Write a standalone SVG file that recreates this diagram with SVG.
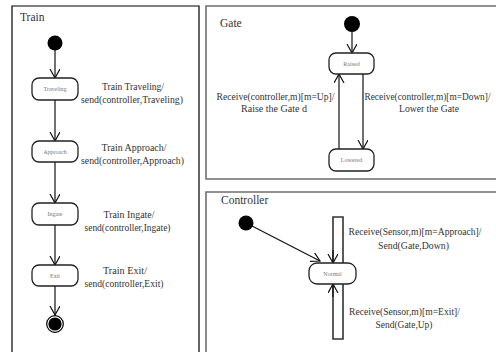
<svg xmlns="http://www.w3.org/2000/svg" width="496" height="352" viewBox="0 0 496 352">
  <style>
    .frame-main { fill: none; stroke: #000; stroke-width: 1.2; }
    .frame-sub { fill: none; stroke: #6e6e6e; stroke-width: 1.6; }
    .title { font-family: "Liberation Serif", "Times New Roman", serif; font-size: 11.5px; fill: #333; }
    .label { font-family: "Liberation Serif", "Times New Roman", serif; font-size: 10.3px; fill: #333; text-anchor: middle; }
    .label.tight { font-size: 9.6px; }
    .state rect { fill: #fff; stroke: #222; stroke-width: 1.3; }
    .state text { font-family: "Liberation Serif", "Times New Roman", serif; font-size: 6px; fill: #777; text-anchor: middle; }
    .init { fill: #000; }
    .conn { fill: none; stroke: #111; stroke-width: 1.2; }
    .loop { fill: none; stroke: #333; stroke-width: 1.6; }
  </style>
  <defs>
    <marker id="arrow" markerUnits="userSpaceOnUse" markerWidth="10" markerHeight="11" refX="9" refY="5" orient="auto">
      <path d="M0,0 L9,5 L0,10" fill="none" stroke="#111" stroke-width="1.2"/>
    </marker>
  </defs>

  <rect width="496" height="352" fill="#fff"/>

  <!-- frames (open where they run past the page edge) -->
  <g id="frames">
    <path class="frame-main" d="M12,352 V6 H199 V352"/>
    <path class="frame-sub" d="M496,6 H206 V179 H496"/>
    <path class="frame-sub" d="M496,192 H206 V352"/>
    <text class="title" x="20" y="21">Train</text>
    <text class="title" x="220" y="27">Gate</text>
    <text class="title" x="221" y="204">Controller</text>
  </g>

  <!-- connectors -->
  <g id="connectors">
    <!-- Train -->
    <path class="conn" d="M55,50 V78" marker-end="url(#arrow)"/>
    <path class="conn" d="M55,100 V141" marker-end="url(#arrow)"/>
    <path class="conn" d="M55,162 V203" marker-end="url(#arrow)"/>
    <path class="conn" d="M55,225 V265" marker-end="url(#arrow)"/>
    <path class="conn" d="M55,286 V315" marker-end="url(#arrow)"/>
    <!-- Gate -->
    <path class="conn" d="M352,32 V53" marker-end="url(#arrow)"/>
    <path class="conn" d="M339,149 V74" marker-end="url(#arrow)"/>
    <path class="conn" d="M363,74 V149" marker-end="url(#arrow)"/>
    <!-- Controller -->
    <path class="conn" d="M252,226 L320,261" marker-end="url(#arrow)"/>
    <path class="loop" d="M343,263 V217 H333 V262"/>
    <path class="conn" d="M333,250 V263" marker-end="url(#arrow)"/>
    <path class="loop" d="M343,284 V339 H333 V285"/>
    <path class="conn" d="M333,297 V284" marker-end="url(#arrow)"/>
  </g>

  <!-- transition labels -->
  <g id="labels">
    <text class="label" x="133" y="89.5" textLength="62" lengthAdjust="spacingAndGlyphs">Train Traveling/</text>
    <text class="label" x="132" y="102.5" textLength="102" lengthAdjust="spacingAndGlyphs">send(controller,Traveling)</text>
    <text class="label" x="134" y="150.5" textLength="65" lengthAdjust="spacingAndGlyphs">Train Approach/</text>
    <text class="label" x="132.5" y="163.5" textLength="103" lengthAdjust="spacingAndGlyphs">send(controller,Approach)</text>
    <text class="label" x="129" y="218" textLength="51" lengthAdjust="spacingAndGlyphs">Train Ingate/</text>
    <text class="label" x="127.5" y="231" textLength="86" lengthAdjust="spacingAndGlyphs">send(controller,Ingate)</text>
    <text class="label" x="125" y="274" textLength="44" lengthAdjust="spacingAndGlyphs">Train Exit/</text>
    <text class="label" x="124" y="287" textLength="79" lengthAdjust="spacingAndGlyphs">send(controller,Exit)</text>

    <text class="label" x="275.5" y="100" textLength="118" lengthAdjust="spacingAndGlyphs">Receive(controller,m)[m=Up]/</text>
    <text class="label" x="274" y="112" textLength="66" lengthAdjust="spacingAndGlyphs">Raise the Gate d</text>
    <text class="label tight" x="427.5" y="100" textLength="126" lengthAdjust="spacingAndGlyphs">Receive(controller,m)[m=Down]/</text>
    <text class="label" x="429" y="112" textLength="60" lengthAdjust="spacingAndGlyphs">Lower the Gate</text>

    <text class="label" x="415" y="235" textLength="133" lengthAdjust="spacingAndGlyphs">Receive(Sensor,m)[m=Approach]/</text>
    <text class="label" x="413.5" y="249" textLength="71" lengthAdjust="spacingAndGlyphs">Send(Gate,Down)</text>
    <text class="label" x="404.5" y="315" textLength="111" lengthAdjust="spacingAndGlyphs">Receive(Sensor,m)[m=Exit]/</text>
    <text class="label" x="404" y="328" textLength="57" lengthAdjust="spacingAndGlyphs">Send(Gate,Up)</text>
  </g>

  <!-- Train machine -->
  <g id="train-initial"><circle class="init" cx="55" cy="43" r="7.5"/></g>
  <g id="traveling" class="state"><rect x="32" y="78" width="46" height="22" rx="7"/><text x="55" y="91">Traveling</text></g>
  <g id="approach" class="state"><rect x="32" y="141" width="46" height="21" rx="7"/><text x="55" y="153.5">Approach</text></g>
  <g id="ingate" class="state"><rect x="32" y="203" width="46" height="22" rx="7"/><text x="55" y="216">Ingate</text></g>
  <g id="exit" class="state"><rect x="32" y="265" width="46" height="21" rx="7"/><text x="55" y="277.5">Exit</text></g>
  <g id="train-final">
    <circle cx="55" cy="324" r="8.3" fill="#fff" stroke="#000" stroke-width="1.2"/>
    <circle class="init" cx="55" cy="324" r="6.6"/>
  </g>

  <!-- Gate machine -->
  <g id="gate-initial"><circle class="init" cx="352" cy="24" r="8"/></g>
  <g id="raised" class="state"><rect x="329" y="53" width="45" height="21" rx="7"/><text x="351.5" y="65.5">Raised</text></g>
  <g id="lowered" class="state"><rect x="329" y="149" width="45" height="22" rx="7"/><text x="351.5" y="162">Lowered</text></g>

  <!-- Controller machine -->
  <g id="controller-initial"><circle class="init" cx="246" cy="223" r="7.5"/></g>
  <g id="normal" class="state"><rect x="309" y="263" width="47" height="21" rx="8"/><text x="332.5" y="275.5">Normal</text></g>
</svg>
